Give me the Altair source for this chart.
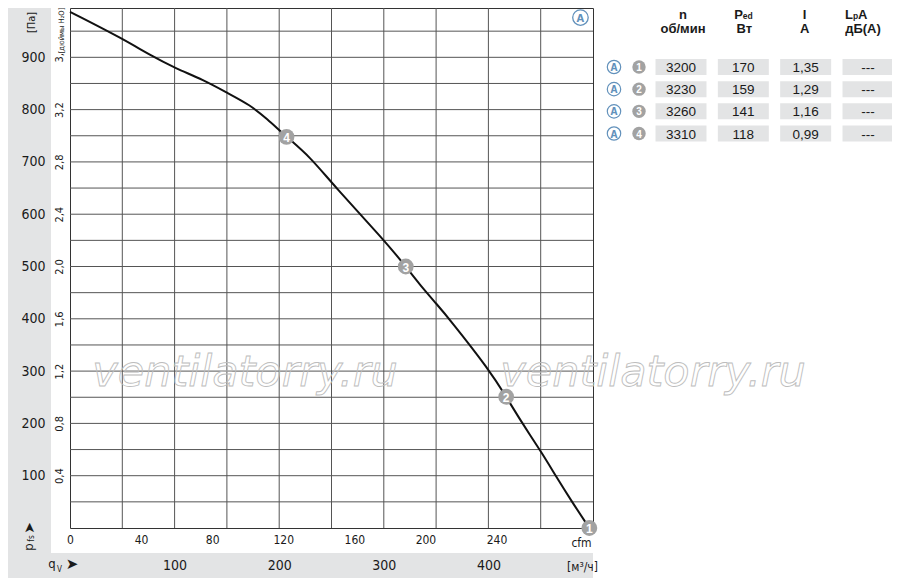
import altair as alt
import pandas as pd

NARROW = "Liberation Sans Narrow, DejaVu Sans Condensed, sans-serif"
SANS = "Liberation Sans, Arial, sans-serif"
INK = "#1a1a1a"
GRID = "#555555"
PANEL = "#e3e4e5"
BLUE = "#6291bb"
DOT = "#a2a2a2"

# ---------------- data ----------------
flow_m3h = [0, 51, 76.5, 101, 127.4, 151.3, 172, 188, 207, 229.4, 251.7, 301, 321,
            334.6, 350.6, 363, 401, 417, 431.8, 451, 464.6, 479.6, 496.5]
press_pa = [987, 935, 904, 879, 857, 831, 809, 783, 748, 710, 656, 549, 500,
            464.6, 428, 399, 302, 251, 202, 144, 99, 51, 0]

point_labels = ["1", "2", "3", "4"]
point_flow = [496.5, 417, 321, 207]
point_press = [0, 251, 500, 748]

grid_flow = [50, 100, 150, 200, 250, 300, 350, 400, 450]
grid_press = [50, 100, 150, 200, 250, 300, 350, 400, 450, 500,
              550, 600, 650, 700, 750, 800, 850, 900, 950]

CFM_TO_M3H = 1.699
cfm_ticks = [0, 40, 80, 120, 160, 200, 240]
m3h_ticks = [100, 200, 300, 400]
pa_ticks = [100, 200, 300, 400, 500, 600, 700, 800, 900]
inch_labels = ["0,4", "0,8", "1,2", "1,6", "2,0", "2,4", "2,8", "3,2", "3,"]

rows = [1, 2, 3, 4]
speed_rpm = ["3200", "3230", "3260", "3310"]
power_w = ["170", "159", "141", "118"]
current_a = ["1,35", "1,29", "1,16", "0,99"]
noise_dba = ["---", "---", "---", "---"]
header_units = ["об/мин", "Вт", "A", "дБ(A)"]
curve_tag = "A"
watermark = "ventilatorry.ru"

# ---------------- scales / axes ----------------
xs = alt.Scale(domain=[0, 500], nice=False, zero=False)
ys = alt.Scale(domain=[0, 994.3], nice=False, zero=False)

common_axis = dict(ticks=False, tickSize=0, domain=False, grid=False, labelFlush=False,
                   labelOverlap=False, labelColor=INK, titleColor=INK, titleFontWeight="normal",
                   zindex=1)

cfm_axis = alt.Axis(orient="bottom", values=[c * CFM_TO_M3H for c in cfm_ticks],
                    labelExpr=f"'' + round(datum.value / {CFM_TO_M3H})",
                    labelPadding=6, labelFont=NARROW, labelFontSize=12,
                    labelAlign="center", labelBaseline="top",
                    title="cfm", titleX=511, titleY=14, titleAlign="center",
                    titleBaseline="middle", titleFont=NARROW, titleFontSize=12,
                    **common_axis)

m3h_axis = alt.Axis(orient="bottom", values=m3h_ticks, format="d",
                    labelPadding=30, labelFont=NARROW, labelFontSize=14,
                    labelAlign="center", labelBaseline="top",
                    title="[м³/ч]", titleX=512, titleY=38, titleAlign="center",
                    titleBaseline="middle", titleFont=NARROW, titleFontSize=12,
                    **common_axis)

pa_axis = alt.Axis(orient="left", values=pa_ticks, format="d",
                   labelPadding=25, labelFont=NARROW, labelFontSize=14,
                   labelAlign="right", labelBaseline="middle",
                   title="[Па]", titleAngle=270, titleX=-39, titleY=14,
                   titleAlign="center", titleBaseline="middle", titleFont=NARROW,
                   titleFontSize=11, **common_axis)

inch_expr = "[" + ",".join(f"'{s}'" for s in inch_labels) + "][round(datum.value / 100) - 1]"
inch_axis = alt.Axis(orient="left", values=pa_ticks, labelExpr=inch_expr,
                     labelPadding=6, labelFont=NARROW, labelFontSize=11, labelAngle=270,
                     labelAlign="center", labelBaseline="bottom",
                     title="[дюймы H₂O]", titleAngle=270, titleX=-9, titleY=22,
                     titleAlign="center", titleBaseline="middle", titleFont=NARROW,
                     titleFontSize=7.5, **common_axis)

# ---------------- helpers ----------------
def label(txt, x, y, size, angle=0, align="center", baseline="middle",
          font=NARROW, weight="normal", color=INK):
    return alt.Chart(pd.DataFrame({"t": [txt]})).mark_text(
        fontSize=size, angle=angle, align=align, baseline=baseline,
        font=font, fontWeight=weight, color=color
    ).encode(x=alt.value(x), y=alt.value(y), text="t:N")


one = pd.DataFrame({"k": [0]})

# background panels (L-shaped grey frame)
left_panel = alt.Chart(one).mark_rect(color=PANEL).encode(
    x=alt.value(-62), x2=alt.value(-19), y=alt.value(0), y2=alt.value(570))
bottom_panel = alt.Chart(one).mark_rect(color=PANEL).encode(
    x=alt.value(-62), x2=alt.value(523), y=alt.value(545), y2=alt.value(570))

vgrid = alt.Chart(pd.DataFrame({"q": grid_flow})).mark_rule(color=GRID, strokeWidth=1).encode(
    x=alt.X("q:Q", scale=xs, axis=cfm_axis))
hgrid = alt.Chart(pd.DataFrame({"p": grid_press})).mark_rule(color=GRID, strokeWidth=1).encode(
    y=alt.Y("p:Q", scale=ys, axis=pa_axis))

wm_df = pd.DataFrame({"t": [watermark]})
wm1 = alt.Chart(wm_df).mark_text(font="DejaVu Sans", fontStyle="italic", fontSize=43,
                                 fillOpacity=0, stroke="#bdbdbd", strokeWidth=0.9,
                                 align="center", baseline="alphabetic").encode(
    x=alt.value(175), y=alt.value(378), text="t:N")
wm2 = alt.Chart(wm_df).mark_text(font="DejaVu Sans", fontStyle="italic", fontSize=43,
                                 fillOpacity=0, stroke="#bdbdbd", strokeWidth=0.9,
                                 align="center", baseline="alphabetic").encode(
    x=alt.value(583), y=alt.value(378), text="t:N")

curve_df = pd.DataFrame({"q": flow_m3h, "p": press_pa})
curve = alt.Chart(curve_df).mark_line(color="#111111", strokeWidth=2, interpolate="basis").encode(
    x=alt.X("q:Q", scale=xs, axis=m3h_axis),
    y=alt.Y("p:Q", scale=ys, axis=inch_axis))

pts_df = pd.DataFrame({"q": point_flow, "p": point_press, "lab": point_labels})
pts = alt.Chart(pts_df).mark_circle(size=250, color=DOT, opacity=1).encode(
    x=alt.X("q:Q", scale=xs, axis=None), y=alt.Y("p:Q", scale=ys, axis=None))
pts_txt = alt.Chart(pts_df).mark_text(color="white", fontWeight="bold", fontSize=12,
                                      font=SANS, baseline="middle", dy=1).encode(
    x=alt.X("q:Q", scale=xs, axis=None), y=alt.Y("p:Q", scale=ys, axis=None), text="lab:N")

tag_df = pd.DataFrame({"q": [488], "p": [976], "t": [curve_tag]})
tag_circle = alt.Chart(tag_df).mark_point(shape="circle", filled=False, size=240, color=BLUE,
                                          strokeWidth=1.3, opacity=1).encode(
    x=alt.X("q:Q", scale=xs, axis=None), y=alt.Y("p:Q", scale=ys, axis=None))
tag_txt = alt.Chart(tag_df).mark_text(color=BLUE, fontSize=11, font=NARROW, fontWeight="bold",
                                      baseline="middle", dy=1).encode(
    x=alt.X("q:Q", scale=xs, axis=None), y=alt.Y("p:Q", scale=ys, axis=None), text="t:N")

decor = [
    label("p", -41.5, 539, 13, angle=270),
    label("fs", -38.5, 530.5, 8, angle=270),
    label("➤", -40.5, 520, 14, angle=270, font="DejaVu Sans"),
    label("q", -18, 559.5, 13, baseline="alphabetic"),
    label("V", -10.5, 564, 8, baseline="alphabetic"),
    label("➤", 2, 556, 15, font="DejaVu Sans"),
]

main = alt.layer(left_panel, bottom_panel, vgrid, hgrid, wm1, wm2, curve, pts, pts_txt,
                 tag_circle, tag_txt, *decor).resolve_axis(x="independent", y="independent")

# ---------------- table ----------------
tx = alt.Scale(domain=[0, 3], range=[611, 798], nice=False, zero=False)
ty = alt.Scale(domain=[1, 4], range=[59, 125.5], nice=False, zero=False)

cell_rows = []
for c, col_vals in enumerate([speed_rpm, power_w, current_a, noise_dba]):
    for r, v in zip(rows, col_vals):
        cell_rows.append({"col": c, "row": r, "txt": v})
cell_df = pd.DataFrame(cell_rows)

cells = alt.Chart(cell_df).transform_calculate(
    x1="datum.col - 0.409", x2="datum.col + 0.409",
    y1="datum.row - 0.361", y2="datum.row + 0.361"
).mark_rect(color=PANEL).encode(
    x=alt.X("x1:Q", scale=tx, axis=None), x2="x2:Q",
    y=alt.Y("y1:Q", scale=ty, axis=None), y2="y2:Q")
cell_txt = alt.Chart(cell_df).mark_text(font=SANS, fontSize=13.5, color=INK,
                                        baseline="middle", dy=1).encode(
    x=alt.X("col:Q", scale=tx, axis=None), y=alt.Y("row:Q", scale=ty, axis=None), text="txt:N")

def head(txt, col, dx, dy, size, align="center"):
    return alt.Chart(pd.DataFrame({"col": [col], "row": [1], "t": [txt]})).mark_text(
        font=SANS, fontSize=size, fontWeight="bold", color=INK, align=align,
        baseline="alphabetic", dx=dx, dy=dy
    ).encode(x=alt.X("col:Q", scale=tx, axis=None),
             y=alt.Y("row:Q", scale=ty, axis=None), text="t:N")

headers = [
    head("n", 0, 2, -48.5, 13),
    head("P", 1, -9, -48.5, 13, "left"),
    head("ed", 1, -0.5, -48, 8.5, "left"),
    head("I", 2, -1, -48.5, 13),
    head("L", 3, -23, -48.5, 13, "left"),
    head("p", 3, -15, -48, 8.5, "left"),
    head("A", 3, -10, -48.5, 13, "left"),
]
for c, (u, dx) in enumerate(zip(header_units, [2, 1, -1, -5])):
    headers.append(head(u, c, dx, -34, 13))

table = alt.layer(cells, cell_txt, *headers)

# ---------------- row icons ----------------
icx = alt.Scale(domain=[0, 1], range=[544, 569], nice=False, zero=False)
icon_df = pd.DataFrame({"row": rows, "num": point_labels, "a": [curve_tag] * 4})
ic_a = alt.Chart(icon_df).transform_calculate(slot="0").mark_point(
    shape="circle", filled=False, size=180, color=BLUE, strokeWidth=1.2, opacity=1).encode(
    x=alt.X("slot:Q", scale=icx, axis=None), y=alt.Y("row:Q", scale=ty, axis=None))
ic_a_txt = alt.Chart(icon_df).transform_calculate(slot="0").mark_text(
    color=BLUE, fontSize=10, font=NARROW, fontWeight="bold", baseline="middle", dy=1).encode(
    x=alt.X("slot:Q", scale=icx, axis=None), y=alt.Y("row:Q", scale=ty, axis=None), text="a:N")
ic_n = alt.Chart(icon_df).transform_calculate(slot="1").mark_circle(
    size=180, color=DOT, opacity=1).encode(
    x=alt.X("slot:Q", scale=icx, axis=None), y=alt.Y("row:Q", scale=ty, axis=None))
ic_n_txt = alt.Chart(icon_df).transform_calculate(slot="1").mark_text(
    color="white", fontSize=10, font=SANS, fontWeight="bold", baseline="middle", dy=1).encode(
    x=alt.X("slot:Q", scale=icx, axis=None), y=alt.Y("row:Q", scale=ty, axis=None), text="num:N")

icons = alt.layer(ic_a, ic_a_txt, ic_n, ic_n_txt)

chart = alt.layer(main, table, icons).resolve_scale(
    x="independent", y="independent"
).properties(
    width=523, height=520,
    padding={"left": 62, "top": 0, "right": 299, "bottom": 50},
    autosize=alt.AutoSizeParams(type="none"),
    background="white",
).configure_view(stroke="#333333", strokeWidth=1)

chart.save("out.html", embed_options={"renderer": "svg", "actions": False})
